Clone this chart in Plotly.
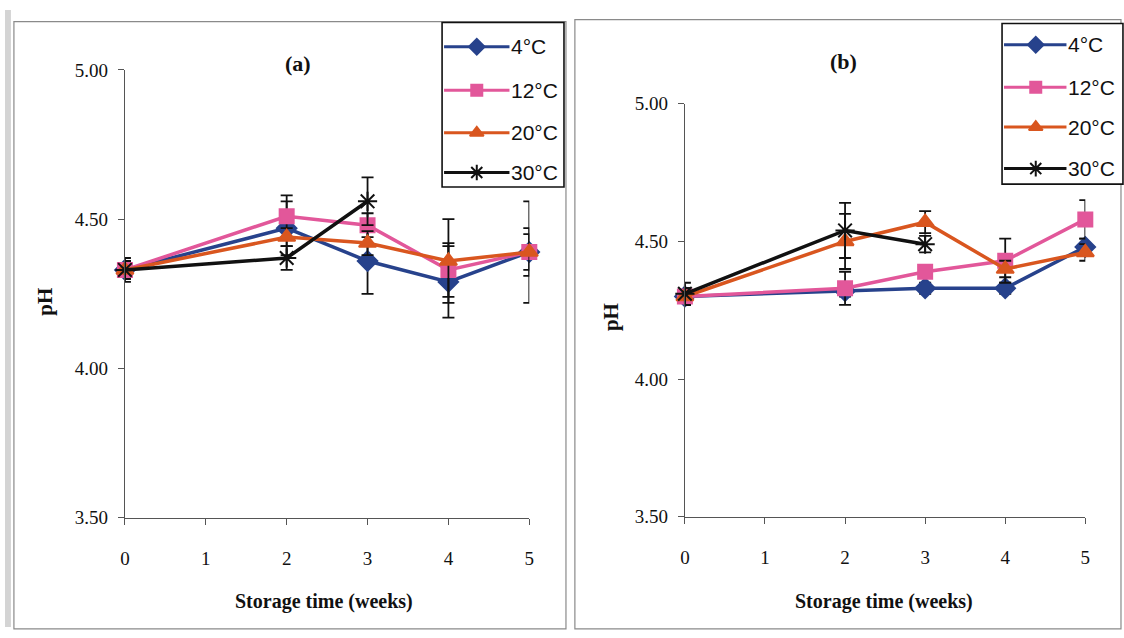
import plotly.graph_objects as go

W, H = 1124, 638

weeks = [0, 2, 3, 4, 5]
weeks_30 = [0, 2, 3]
series_names = ["4°C", "12°C", "20°C", "30°C"]

# Panel (a)
a_4 = [4.33, 4.47, 4.36, 4.29, 4.39]
a_4_err = [0.03, 0.09, 0.11, 0.12, 0.08]
a_12 = [4.33, 4.51, 4.48, 4.33, 4.39]
a_12_err = [0.03, 0.07, 0.04, 0.09, 0.17]
a_20 = [4.33, 4.44, 4.42, 4.36, 4.39]
a_20_err = [0.03, 0.03, 0.04, 0.14, 0.06]
a_30 = [4.33, 4.37, 4.56]
a_30_err = [0.04, 0.04, 0.08]

# Panel (b)
b_4 = [4.30, 4.32, 4.33, 4.33, 4.48]
b_4_err = [0.03, 0.02, 0.02, 0.02, 0.03]
b_12 = [4.30, 4.33, 4.39, 4.43, 4.58]
b_12_err = [0.03, 0.06, 0.02, 0.08, 0.07]
b_20 = [4.30, 4.50, 4.57, 4.40, 4.46]
b_20_err = [0.03, 0.10, 0.04, 0.03, 0.03]
b_30 = [4.31, 4.54, 4.49]
b_30_err = [0.04, 0.10, 0.03]

y_ticks = [3.5, 4.0, 4.5, 5.0]
x_ticks = [0, 1, 2, 3, 4, 5]

colors = ["#27428c", "#e2579a", "#d9561f", "#111111"]
symbols = ["diamond", "square", "triangle-up", "asterisk-open"]
sizes = [15, 14, 15, 16]

SERIF = "Liberation Serif, Times New Roman, serif"
NARROW = "Liberation Sans Narrow, Arial Narrow, Liberation Sans, sans-serif"


def px(x):
    return x / W


def py(y):
    return 1 - y / H


fig = go.Figure()

panels = [
    ("x", "y", [(weeks, a_4, a_4_err), (weeks, a_12, a_12_err), (weeks, a_20, a_20_err), (weeks_30, a_30, a_30_err)]),
    ("x2", "y2", [(weeks, b_4, b_4_err), (weeks, b_12, b_12_err), (weeks, b_20, b_20_err), (weeks_30, b_30, b_30_err)]),
]

for xa, ya, data in panels:
    for i, (xs, ys, es) in enumerate(data):
        fig.add_trace(go.Scatter(
            x=xs, y=ys, xaxis=xa, yaxis=ya, mode="lines+markers",
            name=series_names[i], showlegend=False, cliponaxis=False,
            line=dict(color=colors[i], width=3.5),
            marker=dict(symbol=symbols[i], size=sizes[i], color=colors[i],
                        line=dict(color=colors[i], width=2)),
            error_y=dict(type="data", array=es, visible=True, color="#111111",
                         thickness=1.8, width=6),
        ))

# Legend samples on an overlay pixel axis
legend_specs = [
    (443, 509, 476, 509, [38, 83, 127, 168]),
    (1008, 1071, 1040, 1071, [36, 80, 121, 164]),
]
for (lx0, lx1, mx, tx, ys) in legend_specs:
    for i, yy in enumerate(ys):
        fig.add_trace(go.Scatter(x=[lx0, lx1], y=[yy, yy], xaxis="x3", yaxis="y3",
                                 mode="lines", showlegend=False, hoverinfo="skip",
                                 line=dict(color=colors[i], width=3)))
        fig.add_trace(go.Scatter(x=[mx], y=[yy], xaxis="x3", yaxis="y3",
                                 mode="markers", showlegend=False, hoverinfo="skip",
                                 marker=dict(symbol=symbols[i], size=sizes[i] - 3,
                                             color=colors[i],
                                             line=dict(color=colors[i], width=2))))
        fig.add_annotation(x=px(tx), y=py(yy), xref="paper", yref="paper",
                           text=series_names[i], showarrow=False, xanchor="left",
                           yanchor="middle", font=dict(family=NARROW, size=21, color="#111"))

axis_common = dict(showgrid=False, zeroline=False, showline=True, linecolor="#555",
                   linewidth=1, ticks="outside", ticklen=6, tickcolor="#555",
                   tickfont=dict(family=SERIF, size=19, color="#111"))

fig.update_layout(
    width=W, height=H, margin=dict(l=0, r=0, t=0, b=0),
    paper_bgcolor="white", plot_bgcolor="rgba(0,0,0,0)",
    showlegend=False,
    xaxis=dict(domain=[px(121), px(529)], range=[0, 5], tickvals=x_ticks,
               anchor="y", ticklabelstandoff=17, **axis_common),
    yaxis=dict(domain=[py(525), py(62)], range=[3.5, 5.0], tickvals=y_ticks,
               tickformat=".2f", anchor="x", ticklabelstandoff=6, **axis_common),
    xaxis2=dict(domain=[px(686), px(1090)], range=[0, 5], tickvals=x_ticks,
                anchor="y2", ticklabelstandoff=17, **axis_common),
    yaxis2=dict(domain=[py(524), py(97)], range=[3.5, 5.0], tickvals=y_ticks,
                tickformat=".2f", anchor="x2", ticklabelstandoff=6, **axis_common),
    xaxis3=dict(domain=[0, 1], range=[0, W], visible=False, anchor="y3", fixedrange=True),
    yaxis3=dict(domain=[0, 1], range=[H, 0], visible=False, anchor="x3", fixedrange=True),
)

shapes = [
    dict(type="rect", xref="paper", yref="paper", x0=0, x1=px(6), y0=0, y1=1,
         fillcolor="#d4d4d4", line=dict(width=0), layer="below"),
    dict(type="rect", xref="paper", yref="paper", x0=px(9), x1=px(566), y0=py(640), y1=py(12),
         line=dict(color="#8a8a8a", width=1.2), fillcolor="rgba(0,0,0,0)", layer="below"),
    dict(type="rect", xref="paper", yref="paper", x0=px(575), x1=px(1126), y0=py(640), y1=py(10),
         line=dict(color="#8a8a8a", width=1.2), fillcolor="rgba(0,0,0,0)", layer="below"),
    dict(type="rect", xref="paper", yref="paper", x0=px(441), x1=px(564), y0=py(183), y1=py(13),
         line=dict(color="#111", width=1.6), fillcolor="white", layer="below"),
    dict(type="rect", xref="paper", yref="paper", x0=px(1006), x1=px(1128), y0=py(180), y1=py(14),
         line=dict(color="#111", width=1.6), fillcolor="white", layer="below"),
]
fig.update_layout(shapes=shapes)

for txt, x, y, s in [("<b>(a)</b>", 296, 55, 22), ("<b>(b)</b>", 846, 53, 22),
                     ("<b>Storage time (weeks)</b>", 322, 612, 20),
                     ("<b>Storage time (weeks)</b>", 887, 612, 20)]:
    fig.add_annotation(x=px(x), y=py(y), xref="paper", yref="paper", text=txt,
                       showarrow=False, xanchor="center", yanchor="middle",
                       font=dict(family=SERIF, size=s, color="#111"))
for x, y in [(40, 302), (611, 318)]:
    fig.add_annotation(x=px(x), y=py(y), xref="paper", yref="paper", text="<b>pH</b>",
                       showarrow=False, textangle=-90, xanchor="center", yanchor="middle",
                       font=dict(family=SERIF, size=21, color="#111"))

fig.write_html("out.html")
